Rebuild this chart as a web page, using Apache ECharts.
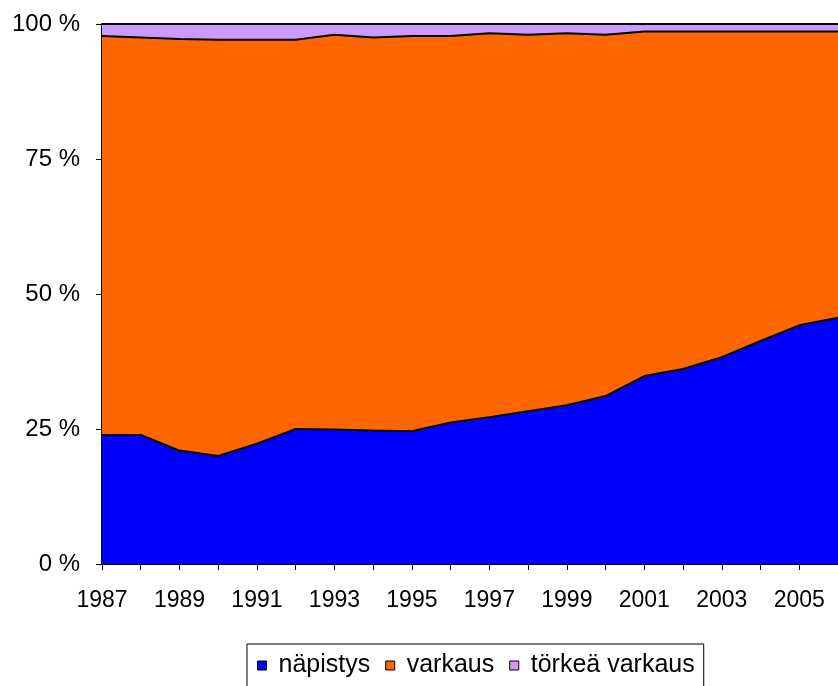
<!DOCTYPE html>
<html>
<head>
<meta charset="utf-8">
<script src="https://cdn.jsdelivr.net/npm/echarts@6/dist/echarts.min.js"></script>
<style>
  html, body { margin: 0; padding: 0; background: #fff; }
  #chart { width: 838px; height: 686px; }
</style>
</head>
<body>
<div id="chart"></div>
<script>
// osuudet prosentteina, vuodet 1987-2006
const years = ['1987', '1988', '1989', '1990', '1991', '1992', '1993', '1994', '1995', '1996',
  '1997', '1998', '1999', '2000', '2001', '2002', '2003', '2004', '2005', '2006']
const napistys = [23.9, 23.9, 21.0, 20.0, 22.3, 25.0, 24.9, 24.7, 24.6, 26.2,
  27.2, 28.3, 29.4, 31.1, 34.8, 36.1, 38.3, 41.3, 44.2, 45.6]
const varkaus = [73.9, 73.6, 76.2, 77.1, 74.8, 72.1, 73.1, 72.8, 73.2, 71.6,
  71.1, 69.7, 68.9, 66.9, 63.8, 62.5, 60.3, 57.3, 54.4, 53.0]
const torkea = [2.2, 2.5, 2.8, 2.9, 2.9, 2.9, 2.0, 2.5, 2.2, 2.2,
  1.7, 2.0, 1.7, 2.0, 1.4, 1.4, 1.4, 1.4, 1.4, 1.4]
const yTicks = [0, 25, 50, 75, 100]

const font = 'Liberation Sans, Arial, sans-serif'

function areaSeries (name, data, color) {
  return {
    name,
    type: 'line',
    stack: 'total',
    data,
    symbol: 'none',
    lineStyle: { color: '#000', width: 2 },
    itemStyle: { color, borderColor: '#000', borderWidth: 1 },
    areaStyle: { color, opacity: 1 }
  }
}

const chart = echarts.init(document.getElementById('chart'))
chart.setOption({
  animation: false,
  backgroundColor: '#fff',
  grid: { left: 102, top: 24, right: -8, bottom: 122 },
  legend: {
    left: 247,
    top: 644,
    padding: [9, 9, 14, 10],
    borderColor: '#000',
    borderWidth: 1,
    itemWidth: 9,
    itemHeight: 9,
    itemGap: 15,
    icon: 'rect',
    itemStyle: { borderColor: '#000', borderWidth: 1 },
    textStyle: { fontSize: 25, fontFamily: font, color: '#000', padding: [0, 0, 0, 7] },
    data: ['näpistys', 'varkaus', 'törkeä varkaus']
  },
  xAxis: {
    type: 'category',
    data: years,
    boundaryGap: false,
    axisLine: { lineStyle: { color: '#000', width: 2 } },
    axisTick: { interval: 0, length: 6, lineStyle: { color: '#000' } },
    axisLabel: { interval: 1, margin: 25, fontSize: 23, fontFamily: font, color: '#000' },
    splitLine: { show: false }
  },
  yAxis: {
    type: 'value',
    min: yTicks[0],
    max: yTicks[yTicks.length - 1],
    interval: 25,
    axisLine: { show: true, lineStyle: { color: '#000', width: 2 } },
    axisTick: { show: true, length: 6, lineStyle: { color: '#000' } },
    axisLabel: { margin: 22, fontSize: 24, fontFamily: font, color: '#000', formatter: '{value} %' },
    splitLine: { show: false }
  },
  series: [
    areaSeries('näpistys', napistys, '#0000ff'),
    areaSeries('varkaus', varkaus, '#ff6600'),
    areaSeries('törkeä varkaus', torkea, '#cc99ff')
  ]
})
</script>
</body>
</html>
